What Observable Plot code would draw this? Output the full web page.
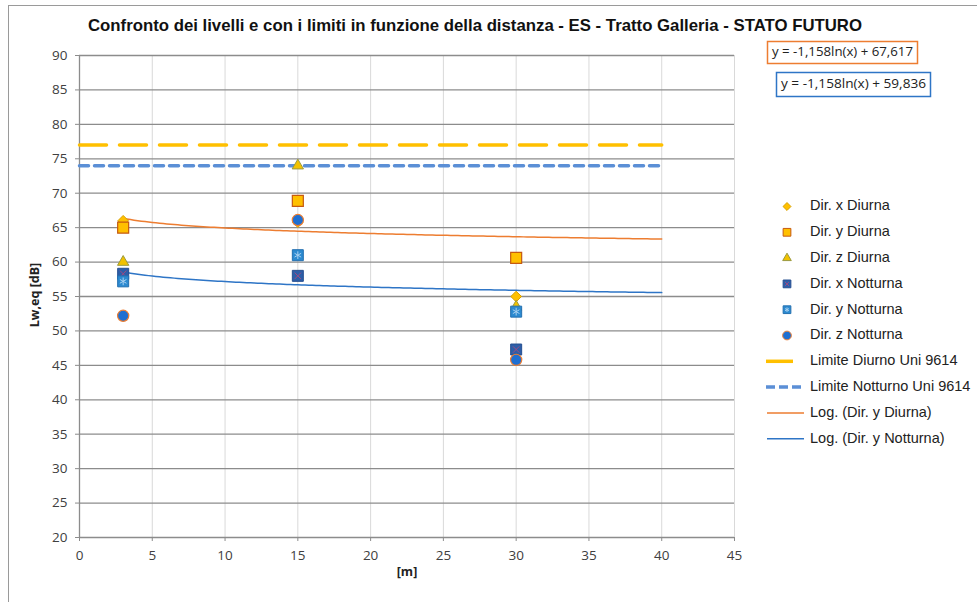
<!DOCTYPE html>
<html><head><meta charset="utf-8">
<script src="https://cdn.jsdelivr.net/npm/d3@7"></script>
<script src="https://cdn.jsdelivr.net/npm/@observablehq/plot@0.6"></script>
<style>body{margin:0;background:#fff}#chart{width:977px;height:602px}</style>
</head><body><div id="chart"></div>
<script>
// ---- data ----
const distances = [3, 15, 30];
const dirXDiurna = [66.0, 65.8, 55.0];
const dirYDiurna = [65.0, 68.9, 60.6];
const dirZDiurna = [60.0, 74.0, 53.5];
const dirXNotturna = [58.3, 58.0, 47.3];
const dirYNotturna = [57.2, 61.0, 52.8];
const dirZNotturna = [52.2, 66.1, 45.8];
const limitRange = [0, 40];
const limitDiurno = 77;
const limitNotturno = 74;
const trendRange = [3, 40];
const trendSlope = -1.158;
const trendInterceptDiurna = 67.617;
const trendInterceptNotturna = 59.836;
const xTicks = [0, 5, 10, 15, 20, 25, 30, 35, 40, 45];
const yTicks = [20, 25, 30, 35, 40, 45, 50, 55, 60, 65, 70, 75, 80, 85, 90];
const titleText = "Confronto dei livelli e con i limiti in funzione della distanza - ES - Tratto Galleria - STATO FUTURO";
const xLabel = "[m]";
const yLabel = "Lw,eq [dB]";
const eqDiurna = "y = -1,158ln(x) + 67,617";
const eqNotturna = "y = -1,158ln(x) + 59,836";
const legendLabels = ["Dir. x Diurna", "Dir. y Diurna", "Dir. z Diurna", "Dir. x Notturna", "Dir. y Notturna", "Dir. z Notturna",
  "Limite Diurno Uni 9614", "Limite Notturno Uni 9614", "Log. (Dir. y Diurna)", "Log. (Dir. y Notturna)"];

// ---- tables ----
const pts = vals => distances.map((x, i) => ({x, y: vals[i]}));
const limitD = limitRange.map(x => ({x, y: limitDiurno}));
const limitN = limitRange.map(x => ({x, y: limitNotturno}));
const trendXs = d3.range(trendRange[0], trendRange[1] + 0.001, 0.25);
const trendD = trendXs.map(x => ({x, y: trendInterceptDiurna + trendSlope * Math.log(x)}));
const trendN = trendXs.map(x => ({x, y: trendInterceptNotturna + trendSlope * Math.log(x)}));

const C = {
  diamondFill: "#FFC000", diamondStroke: "#D9A100",
  squareFill: "#FFC000", squareStroke: "#C55A11",
  triFill: "#F2C200", triStroke: "#9A9A40",
  xnFill: "#2D5EA8", xnStroke: "#274F90", xnMark: "#A04A80",
  ynFill: "#2C8AD0", ynStroke: "#2470B0", ynMark: "#A8D0F0",
  circFill: "#1F6FD1", circStroke: "#ED7D31",
  limD: "#FFC000", limN: "#5B8FD6", trD: "#ED7D31", trN: "#2E75C6"
};

const plot = Plot.plot({
  width: 977, height: 602,
  marginLeft: 79, marginRight: 243, marginTop: 55, marginBottom: 65,
  x: {domain: [0, 45]},
  y: {domain: [20, 90]},
  style: {fontFamily: "'Open Sans', sans-serif", fontSize: "13.5px", background: "#fff"},
  marks: [
    Plot.ruleX(xTicks.filter(d => d > 0), {stroke: "#D9D9D9", strokeWidth: 1}),
    Plot.ruleY(yTicks.filter(d => d > 20), {stroke: "#8C8C8C", strokeWidth: 1.3}),
    Plot.ruleX([0], {stroke: "#8C8C8C", strokeWidth: 1.3}),
    Plot.ruleY([20], {stroke: "#8C8C8C", strokeWidth: 1.3}),
    Plot.axisY({ticks: yTicks, tickSize: 4, tickPadding: 8, label: null, stroke: "#8C8C8C", fill: "#404040", tickFormat: d => String(d)}),
    Plot.axisX({ticks: xTicks, tickSize: 4, tickPadding: 9, label: null, stroke: "#8C8C8C", fill: "#404040", tickFormat: d => String(d)}),
    Plot.line(limitD, {x: "x", y: "y", stroke: C.limD, strokeWidth: 3.5, strokeDasharray: "27,13"}),
    Plot.line(limitN, {x: "x", y: "y", stroke: C.limN, strokeWidth: 3.5, strokeDasharray: "9,6"}),
    Plot.line(trendD, {x: "x", y: "y", stroke: C.trD, strokeWidth: 1.5}),
    Plot.line(trendN, {x: "x", y: "y", stroke: C.trN, strokeWidth: 1.5}),
    Plot.dot(pts(dirXDiurna), {x: "x", y: "y", symbol: "diamond2", r: 4.8, fill: C.diamondFill, stroke: C.diamondStroke, strokeWidth: 1}),
    Plot.dot(pts(dirYDiurna), {x: "x", y: "y", symbol: "square", r: 6.2, fill: C.squareFill, stroke: C.squareStroke, strokeWidth: 1.2}),
    Plot.dot(pts(dirZDiurna), {x: "x", y: "y", symbol: "triangle", r: 4.2, fill: C.triFill, stroke: C.triStroke, strokeWidth: 1}),
    Plot.dot(pts(dirXNotturna), {x: "x", y: "y", symbol: "square", r: 6.2, fill: C.xnFill, stroke: C.xnStroke, strokeWidth: 1}),
    Plot.dot(pts(dirXNotturna), {x: "x", y: "y", symbol: "times", r: 3, stroke: C.xnMark, strokeWidth: 1}),
    Plot.dot(pts(dirYNotturna), {x: "x", y: "y", symbol: "square", r: 6.2, fill: C.ynFill, stroke: C.ynStroke, strokeWidth: 1}),
    Plot.dot(pts(dirYNotturna), {x: "x", y: "y", symbol: "asterisk", r: 3.6, stroke: C.ynMark, strokeWidth: 1}),
    Plot.dot(pts(dirZNotturna), {x: "x", y: "y", symbol: "circle", r: 5.6, fill: C.circFill, stroke: C.circStroke, strokeWidth: 1.2})
  ]
});
document.getElementById("chart").appendChild(plot);

// ---- annotations (title, labels, legend, equation boxes) ----
const svg = d3.select(plot);
svg.append("rect").attr("x", 8.5).attr("y", 5.5).attr("width", 1000).attr("height", 700)
  .attr("fill", "none").attr("stroke", "#9A9A9A").attr("stroke-width", 1);
svg.append("text").attr("x", 475).attr("y", 27).attr("text-anchor", "middle").attr("dominant-baseline", "middle")
  .attr("font-family", "'Liberation Sans Narrow','Liberation Sans',Arial,sans-serif").attr("font-weight", "bold")
  .attr("font-size", 17).attr("fill", "#111").attr("textLength", 774).attr("lengthAdjust", "spacingAndGlyphs").text(titleText);
svg.append("text").attr("transform", "translate(36,295) rotate(-90)").attr("text-anchor", "middle").attr("dominant-baseline", "middle")
  .attr("font-family", "'Open Sans',sans-serif").attr("font-weight", "bold").attr("font-size", 12.5).attr("fill", "#222").text(yLabel);
svg.append("text").attr("x", 407).attr("y", 573).attr("text-anchor", "middle").attr("dominant-baseline", "middle")
  .attr("font-family", "'Open Sans',sans-serif").attr("font-weight", "bold").attr("font-size", 12.5).attr("fill", "#222").text(xLabel);

function eqBox(x, y, w, h, color, txt) {
  svg.append("rect").attr("x", x).attr("y", y).attr("width", w).attr("height", h).attr("fill", "#fff").attr("stroke", color).attr("stroke-width", 1.5);
  svg.append("text").attr("x", x + w / 2).attr("y", y + h / 2 + 0.5).attr("text-anchor", "middle").attr("dominant-baseline", "middle")
    .attr("font-family", "'Open Sans',sans-serif").attr("font-size", 13).attr("fill", "#222")
    .attr("textLength", w - 9).attr("lengthAdjust", "spacingAndGlyphs").text(txt);
}
eqBox(767.5, 41.5, 150, 22, C.trD, eqDiurna);
eqBox(776.5, 72.5, 154, 24, C.trN, eqNotturna);

const lg = svg.append("g").attr("font-family", "'Liberation Sans',Arial,sans-serif").attr("font-size", 14.5)
  .attr("fill", "#222").attr("text-anchor", "start");
const markerX = 787, textX = 810, row0 = 206.5, rowH = 25.8;
legendLabels.forEach((lab, i) => {
  const y = row0 + i * rowH;
  lg.append("text").attr("x", textX).attr("y", y).attr("text-anchor", "start").attr("dominant-baseline", "middle").text(lab);
});
const legendMarkers = [
  [d3.symbolDiamond2, 40, C.diamondFill, C.diamondStroke],
  [d3.symbolSquare, 60, C.squareFill, C.squareStroke],
  [d3.symbolTriangle, 32, C.triFill, C.triStroke],
  [d3.symbolSquare, 60, C.xnFill, C.xnStroke],
  [d3.symbolSquare, 60, C.ynFill, C.ynStroke],
  [d3.symbolCircle, 60, C.circFill, C.circStroke]
];
legendMarkers.forEach(([s, size, f, st], i) => {
  lg.append("path").attr("d", d3.symbol(s, size)()).attr("transform", `translate(${markerX},${row0 + i * rowH})`)
    .attr("fill", f).attr("stroke", st).attr("stroke-width", 1);
});
lg.append("path").attr("d", d3.symbol(d3.symbolTimes, 12)()).attr("transform", `translate(${markerX},${row0 + 3 * rowH})`).attr("fill", "none").attr("stroke", C.xnMark);
lg.append("path").attr("d", d3.symbol(d3.symbolAsterisk, 14)()).attr("transform", `translate(${markerX},${row0 + 4 * rowH})`).attr("fill", "none").attr("stroke", C.ynMark);
const legendLines = [
  [766, 793, C.limD, 3.5, null],
  [766, 804, C.limN, 3.5, "9,4"],
  [767, 804, C.trD, 1.5, null],
  [767, 804, C.trN, 1.5, null]
];
legendLines.forEach(([x1, x2, c, w, dash], j) => {
  const y = row0 + (6 + j) * rowH;
  const l = lg.append("line").attr("x1", x1).attr("x2", x2).attr("y1", y).attr("y2", y).attr("stroke", c).attr("stroke-width", w);
  if (dash) l.attr("stroke-dasharray", dash);
});
</script>
</body></html>
